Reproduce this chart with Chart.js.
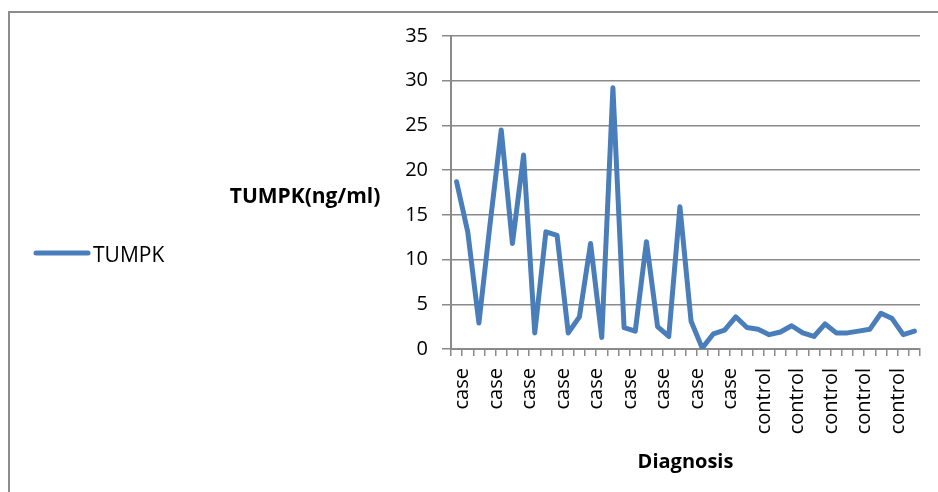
<!DOCTYPE html>
<html lang="en">
<head>
<meta charset="UTF-8">
<title>TUMPK by Diagnosis</title>
<script src="https://cdn.jsdelivr.net/npm/chart.js@4"></script>
<style>
    html, body { margin: 0; padding: 0; background: #fff; }
    #wrap { width: 938px; height: 492px; position: relative; }
</style>
</head>
<body>
<div id="wrap"><canvas id="chart"></canvas></div>
<script>
// categories (one per sample)
const diagnosis = [
    'case', 'case', 'case', 'case', 'case', 'case', 'case', 'case', 'case', 'case',
    'case', 'case', 'case', 'case', 'case', 'case', 'case', 'case', 'case', 'case',
    'case', 'case', 'case', 'case', 'case', 'case',
    'control', 'control', 'control', 'control', 'control', 'control', 'control', 'control',
    'control', 'control', 'control', 'control', 'control', 'control', 'control', 'control'
];
// TUMPK values, ng/ml
const tumpk = [
    18.7, 13.1, 2.9, 14.0, 24.5, 11.8, 21.7, 1.8, 13.1, 12.7,
    1.8, 3.6, 11.8, 1.3, 29.2, 2.4, 2.0, 12.0, 2.5, 1.4,
    15.9, 3.1, 0.1, 1.7, 2.1, 3.6, 2.4, 2.2, 1.6, 1.9,
    2.6, 1.8, 1.4, 2.8, 1.8, 1.8, 2.0, 2.2, 4.0, 3.4,
    1.6, 2.0
];
const yTicks = [0, 5, 10, 15, 20, 25, 30, 35];
const seriesName = 'TUMPK';
const yTitle = 'TUMPK(ng/ml)';
const xTitle = 'Diagnosis';

const lineColor = '#4a7ebb';
const gridColor = '#8a8a8a';
const fontFamily = '"Open Sans", "Noto Sans", sans-serif';

// frame, legend and the horizontal y title, drawn like the Excel original
const extras = {
    id: 'extras',
    beforeDraw(chart) {
        const ctx = chart.ctx;
        ctx.save();
        ctx.strokeStyle = '#8c8c8c';
        ctx.lineWidth = 2;
        ctx.strokeRect(9, 12, 1000, 600);
        ctx.restore();
    },
    afterDraw(chart) {
        const ctx = chart.ctx;
        ctx.save();
        // y title
        ctx.fillStyle = '#000';
        ctx.font = 'bold 21px ' + fontFamily;
        ctx.textAlign = 'center';
        ctx.textBaseline = 'middle';
        ctx.fillText(yTitle, 305, 197);
        // legend
        const ds = chart.data.datasets[0];
        ctx.strokeStyle = ds.borderColor;
        ctx.lineWidth = 5;
        ctx.lineCap = 'round';
        ctx.beginPath();
        ctx.moveTo(36, 253);
        ctx.lineTo(88, 253);
        ctx.stroke();
        ctx.font = '21px ' + fontFamily;
        ctx.textAlign = 'left';
        ctx.fillText(ds.label, 93, 256);
        ctx.restore();
    }
};

new Chart(document.getElementById('chart'), {
    type: 'line',
    data: {
        labels: diagnosis,
        datasets: [{
            label: seriesName,
            data: tumpk,
            borderColor: lineColor,
            backgroundColor: lineColor,
            borderWidth: 5,
            pointRadius: 0,
            pointHoverRadius: 0,
            tension: 0,
            borderJoinStyle: 'round',
            borderCapStyle: 'round',
            fill: false
        }]
    },
    options: {
        responsive: true,
        maintainAspectRatio: false,
        animation: false,
        layout: { padding: { left: 0, right: 18, top: 36, bottom: 0 } },
        plugins: {
            legend: { display: false },
            tooltip: { enabled: false }
        },
        scales: {
            x: {
                offset: true,
                afterFit(scale) {
                    scale.height = 143;
                    scale.paddingLeft = 0;
                    scale.paddingRight = 0;
                },
                border: { display: true, color: gridColor, width: 2 },
                grid: {
                    offset: true,
                    drawOnChartArea: false,
                    drawTicks: true,
                    tickLength: 7,
                    color: gridColor,
                    lineWidth: 1.5
                },
                ticks: {
                    autoSkip: false,
                    minRotation: 90,
                    maxRotation: 90,
                    padding: 12,
                    labelOffset: 6,
                    color: '#000',
                    font: { family: fontFamily, size: 20 },
                    callback(value, index) {
                        return index % 3 === 0 ? diagnosis[index] : '';
                    }
                },
                title: {
                    display: true,
                    text: xTitle,
                    color: '#000',
                    font: { family: fontFamily, size: 20, weight: 'bold' },
                    padding: { top: 4, bottom: 18 }
                }
            },
            y: {
                min: yTicks[0],
                max: yTicks[yTicks.length - 1],
                afterFit(scale) { scale.width = 451; },
                afterBuildTicks(scale) { scale.ticks = yTicks.map(v => ({ value: v })); },
                border: { display: true, color: gridColor, width: 2 },
                grid: {
                    color: gridColor,
                    lineWidth: 1.5,
                    drawTicks: true,
                    tickLength: 9
                },
                ticks: {
                    padding: 14,
                    color: '#000',
                    font: { family: fontFamily, size: 20 }
                }
            }
        }
    },
    plugins: [extras]
});
</script>
</body>
</html>
